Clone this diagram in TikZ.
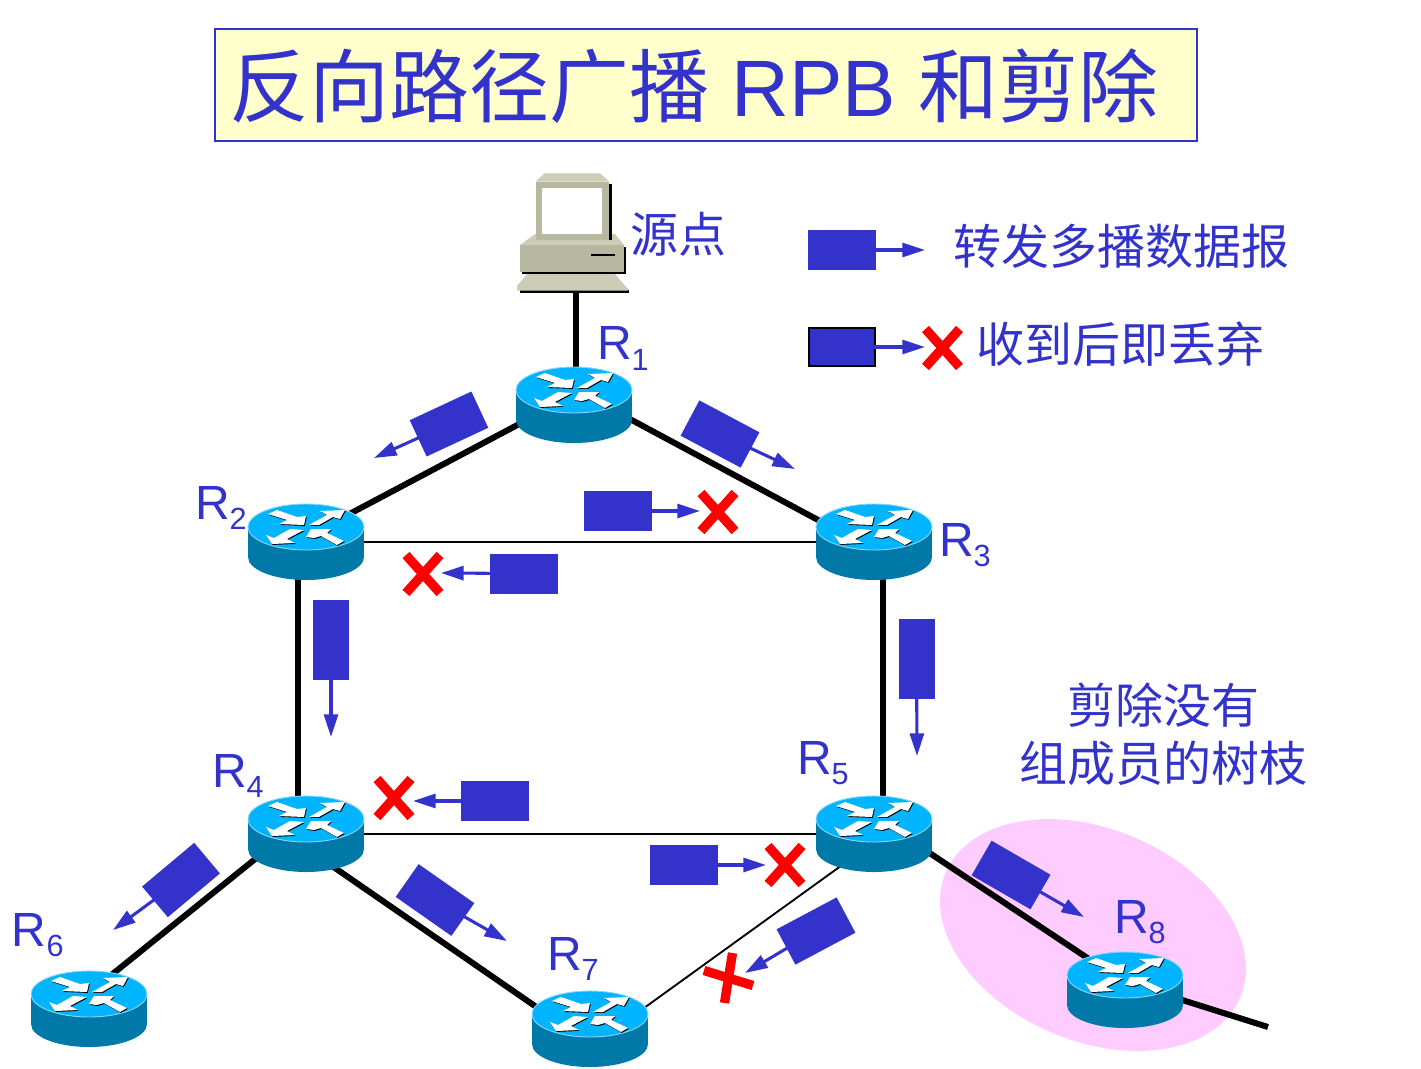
\documentclass[tikz,border=0pt]{standalone}
\usepackage{fontspec}
\setmainfont{Liberation Sans}
\newfontfamily\cjk{Noto Sans CJK SC}
\usetikzlibrary{arrows.meta,calc}
\definecolor{pblue}{RGB}{51,51,204}
\definecolor{rtop}{RGB}{0,180,255}
\definecolor{rside}{RGB}{0,121,168}
\definecolor{redge}{RGB}{130,215,245}
\definecolor{pcmain}{RGB}{184,184,160}
\definecolor{pclight}{RGB}{204,204,184}
\definecolor{pinkz}{RGB}{255,204,255}
\definecolor{ttl}{RGB}{255,255,204}
\tikzset{
  x=0.75pt,y=-0.75pt,
  routerspot/.style={minimum width=87pt,minimum height=57pt,inner sep=0pt,outer sep=0pt},
  pcspot/.style={minimum width=84pt,minimum height=90pt,inner sep=0pt,outer sep=0pt},
  thick link/.style={line width=4.5pt,black},
  thin link/.style={line width=1.4pt,black},
  pkt/.style={fill=pblue,draw=none,minimum width=51pt,minimum height=30pt,inner sep=0pt,outer sep=0pt},
  vpkt/.style={pkt,rotate=90,minimum width=60pt,minimum height=27pt},
  arr/.style={pblue,line width=2.3pt,-{Triangle[length=17pt,width=10.5pt]},shorten <=-0.5pt},
  lbl/.style={text=pblue,inner sep=0pt,outer sep=0pt,font=\fontsize{36}{36}\selectfont,anchor=base west},
  cn/.style={text=pblue,inner sep=0pt,outer sep=0pt,font=\cjk\fontsize{36}{43.5}\selectfont,align=center},
  crossbar/.style={red,line width=7pt},
  routerpic/.pic={
    \fill[rside] (0,15) ellipse [x radius=58,y radius=23];
    \fill[rside] (-58,-15) rectangle (58,15);
    \fill[rtop,draw=redge,line width=0.7pt] (0,-15) ellipse [x radius=58,y radius=23];
    \foreach \dx/\dy/\col in {0.8/0.9/black,0/0/white}{
      \begin{scope}[shift={(\dx,\dy-15)}]
      \fill[\col] (-38,-13)--(-29,-17)--(-9,-10)--(0,-11)--(-2,-2)--(-27,-3)--(-19,-7)--cycle;
      \fill[\col] (3,-2)--(21,-12)--(14,-16)--(39,-17)--(34,-8)--(27,-10)--(13,-2)--cycle;
      \fill[\col] (-2,3)--(-19,12)--(-11,16)--(-34,17)--(-40,8)--(-32,11)--(-16,2)--cycle;
      \fill[\col] (0,10)--(5,2)--(25,2)--(21,6)--(38,14)--(31,18)--(15,9)--(8,11)--cycle;
      \end{scope}
    }
  },
  xmarkpic/.pic={
    \draw[crossbar] (-17,-19) -- (17,19);
    \draw[crossbar] (17,-19) -- (-17,19);
  },
  tiltxpic/.pic={
    \draw[crossbar] (4,-25) -- (-4,25);
    \draw[crossbar] (-24.5,-7.5) -- (24.5,7.5);
  },
  pcpic/.pic={
    % local origin at (576,232)
    \fill[black] (-54,15) rectangle (50,41.5);
    \fill[pclight] (-56,13) -- (-41,2) -- (39,2) -- (48,13) -- cycle;
    \fill[pcmain] (-56,13) rectangle (48,40);
    \draw[black,line width=0.9pt] (15,23) -- (39,23);
    \fill[black] (-38,-48) rectangle (35.7,8);
    \fill[pclight] (-40.3,-50.3) -- (-31.7,-58.7) -- (24,-58.7) -- (33.3,-50.3) -- cycle;
    \fill[pcmain] (-40.3,-50.3) rectangle (33.3,8);
    \fill[white] (-34.3,-43.7) rectangle (25.7,2);
    \fill[black] (-56,58) rectangle (53,61);
    \fill[pclight] (-59,54) -- (-49,42) -- (39,42) -- (52,57) -- (52,58.7) -- (-59,58.7) -- cycle;
  },
}
\newcommand{\rlab}[1]{R\raisebox{-8.2pt}{\fontsize{23}{23}\selectfont #1}}
\begin{document}
\begin{tikzpicture}
\useasboundingbox (0,0) rectangle (1421,1068);
% title
\node[draw=pblue,fill=ttl,line width=1.4pt,minimum width=736.5pt,minimum height=84pt,inner sep=0pt] (title) at (706,85) {};
\node[text=pblue,inner sep=0pt,anchor=west,font=\fontsize{60}{60}\selectfont] (titletext) at (229,86) {{\cjk 反向路径广播} RPB {\cjk 和剪除}};
% pink zone
\fill[pinkz] (1093,935) ellipse [x radius=160,y radius=106,rotate=-23];
% nodes
\node[pcspot] (pc) at (576,232) {};
\node[routerspot] (r1) at (574,405) {};
\node[routerspot] (r2) at (306,542) {};
\node[routerspot] (r3) at (874,542) {};
\node[routerspot] (r4) at (306,834) {};
\node[routerspot] (r5) at (874,834) {};
\node[routerspot] (r6) at (89,1009) {};
\node[routerspot] (r7) at (590,1029) {};
\node[routerspot] (r8) at (1125,990) {};
\coordinate (tail) at (1268,1027);
% links
\draw[thick link] (pc.south) -- ($(r1.center)+(2,-10)$);
\draw[thick link] ($(r1.center)+(0,-10)$) -- ($(r2.center)+(0,-5)$);
\draw[thick link] ($(r1.center)+(0,-16)$) -- ($(r3.center)+(0,8)$);
\draw[thin link] (r2.center) -- (r3.center);
\draw[thick link] ($(r2.center)+(-8,0)$) -- ($(r4.center)+(-8,0)$);
\draw[thick link] ($(r3.center)+(9,0)$) -- ($(r5.center)+(9,0)$);
\draw[thin link] (r4.center) -- (r5.center);
\draw[thick link] ($(r4.center)+(0,-16)$) -- ($(r6.center)+(0,-16)$);
\draw[thick link] ($(r4.center)+(0,14)$) -- ($(r7.center)+(0,15)$);
\draw[thin link] ($(r5.center)+(0,8)$) -- ($(r7.center)+(0,18)$);
\draw[thick link] ($(r5.center)+(0,-18)$) -- ($(r8.center)+(0,-7)$);
\draw[thick link] ($(r8.center)+(0,-8)$) -- (tail);
% pics
\pic at (pc) {pcpic};
\foreach \r in {r1,r2,r3,r4,r5,r6,r7,r8} { \pic at (\r) {routerpic}; }
% router labels
\node[lbl] (l1) at (597,359.5) {\rlab{1}};
\node[lbl] (l2) at (195,519) {\rlab{2}};
\node[lbl] (l3) at (939,556) {\rlab{3}};
\node[lbl] (l4) at (212,787) {\rlab{4}};
\node[lbl] (l5) at (797,774) {\rlab{5}};
\node[lbl] (l6) at (12,946) {\rlab{6}};
\node[lbl] (l7) at (547,970) {\rlab{7}};
\node[lbl] (l8) at (1114,933) {\rlab{8}};
% texts
\node[cn,anchor=west] (src) at (630,234) {源点};
\node[cn,anchor=west] (t1) at (953,246) {转发多播数据报};
\node[cn,anchor=west] (t2) at (976,344) {收到后即丢弃};
\node[cn] (t3) at (1163.5,734) {剪除没有\\组成员的树枝};
% arrow ends
\coordinate (e0) at (925,250);
\coordinate (e00) at (925,347);
\coordinate (e1) at (374,458);
\coordinate (e2) at (795,469);
\coordinate (e3) at (700,511);
\coordinate (e4) at (441,573);
\coordinate (e5) at (331,737);
\coordinate (e6) at (917,756);
\coordinate (e7) at (413,801);
\coordinate (e8) at (766,865);
\coordinate (e9) at (113,930);
\coordinate (e10) at (507,941);
\coordinate (e11) at (745,973);
\coordinate (e12) at (1084,917);
% packets
\node[pkt] (p0) at (842,250) {};
\node[pkt,draw=black,line width=1.5pt,minimum width=49.5pt,minimum height=28.5pt] (p00) at (842,347) {};
\node[pkt,rotate=25] (p1) at (449,424) {};
\node[pkt,rotate=-28] (p2) at (720,434) {};
\node[pkt] (p3) at (617.5,511) {};
\node[pkt] (p4) at (523.5,573.5) {};
\node[vpkt] (p5) at (331,639.5) {};
\node[vpkt] (p6) at (916.5,659) {};
\node[pkt] (p7) at (494.5,801) {};
\node[pkt] (p8) at (684,865) {};
\node[pkt,rotate=40] (p9) at (181,880) {};
\node[pkt,rotate=-35] (p10) at (435,900) {};
\node[pkt,rotate=28] (p11) at (816,931) {};
\node[pkt,rotate=-30] (p12) at (1011,875) {};
\foreach \a/\b in {p0/e0,p00/e00,p1/e1,p2/e2,p3/e3,p4/e4,p5/e5,p6/e6,p7/e7,p8/e8,p9/e9,p10/e10,p11/e11,p12/e12}{
  \draw[arr] (\a) -- (\b);
}
% crosses
\pic at (942.5,348) {xmarkpic};
\pic at (718,512) {xmarkpic};
\pic at (423,574) {xmarkpic};
\pic at (394,798) {xmarkpic};
\pic at (785,865) {xmarkpic};
\pic at (728.5,978) {tiltxpic};
\end{tikzpicture}
\end{document}
